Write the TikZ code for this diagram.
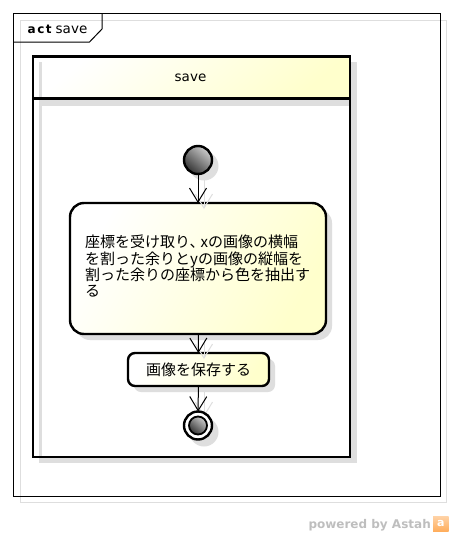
\documentclass[tikz,border=0pt]{standalone}
\usepackage{fontspec}
\setmainfont{DejaVu Sans}
\newfontfamily\jpfont{Noto Sans CJK JP}
\usetikzlibrary{arrows.meta,calc}
\definecolor{noteyellow}{RGB}{255,255,204}
\definecolor{shadowgrey}{RGB}{222,222,222}
\definecolor{powergrey}{RGB}{190,190,190}
\tikzset{
  framebox/.style={draw=black,line width=1pt},
  shadowbox/.style={draw=shadowgrey,line width=1.6pt},
  activity/.style={draw=black,line width=2.4pt,left color=white,right color=noteyellow,shading angle=60,inner sep=0pt,outer sep=0pt},
  actshadow/.style={fill=shadowgrey,draw=none},
  flow/.style={line width=1pt,-{Straight Barb[length=14pt,width=17pt,line width=1pt]}},
  flowshadow/.style={draw=shadowgrey,line width=1pt,-{Straight Barb[length=14pt,width=17pt,line width=1pt]}},
  ball/.style={circle,draw=black,line width=2.4pt,inner sep=0pt,outer sep=0pt,shading=axis,top color=gray!40,bottom color=black!80,shading angle=-40},
}
\begin{document}
\begin{tikzpicture}[x=1pt,y=-1pt]
\useasboundingbox (0,0) rectangle (453,536);
% outer frame
\node[fill=white,minimum width=427pt,minimum height=483pt,inner sep=0pt,outer sep=0pt,anchor=north west] (frameback) at (13.5,13.5) {};
\draw[shadowbox] (20.5,20.5) rectangle (446.5,502.5);
\node[framebox,minimum width=427pt,minimum height=483pt,inner sep=0pt,outer sep=0pt,anchor=north west] (frame) at (13.5,13.5) {};
\coordinate (tabA) at (13.5,42);
\coordinate (tabB) at (89.5,42);
\coordinate (tabC) at (102,29);
\coordinate (tabD) at (102,13.5);
\draw[line width=1pt] (tabA) -- (tabB) -- (tabC) -- (tabD);
\node[anchor=base west,inner sep=0pt,font=\bfseries\fontsize{12}{12}\selectfont] (acttag) at (27.5,33) {a\hspace{1.5pt}c\hspace{1.5pt}t};
\node[anchor=base west,inner sep=0pt,font=\fontsize{13.5}{14}\selectfont] (acttitle) at (55.5,33) {save};
% partition
\node[minimum width=317pt,minimum height=42pt,anchor=north west,inner sep=0pt,outer sep=0pt,left color=white,right color=noteyellow,shading angle=40] (head) at (33,56.5) {};
\fill[shadowgrey] (350,62) rectangle (356.5,463);
\fill[shadowgrey] (40,98) rectangle (350,106);
\fill[shadowgrey] (39,457) rectangle (350,463);
\draw[shadowgrey,line width=2.6pt] (40.5,62) -- (40.5,457);
\node[draw=black,line width=2.4pt,minimum width=317pt,minimum height=42pt,anchor=north west,inner sep=0pt,outer sep=0pt] (headline) at (33,56.5) {};
\node[draw=black,line width=2.4pt,minimum width=317pt,minimum height=359pt,anchor=north west,inner sep=0pt,outer sep=0pt] (body) at (33,98) {};
\node[inner sep=0pt,font=\fontsize{13.5}{14}\selectfont] (headtxt) at (190.5,78) {save};
% activity shadows
\fill[actshadow] (204,166) circle (14.5);
\fill[actshadow,rounded corners=14pt] (76,209) rectangle (332,340);
\fill[actshadow,rounded corners=7pt] (134,359) rectangle (275,392);
\fill[actshadow] (204,432) circle (14.5);
% nodes
\node[ball,minimum size=28pt] (start) at (198,160) {};
\node[activity,rounded corners=14pt,minimum width=256pt,minimum height=131pt] (act1) at (198,268.5) {};
\node[anchor=north west,inner sep=0pt,align=left,font=\jpfont\fontsize{15}{16.2}\selectfont] (act1txt) at (85,235) {座標を受け取り、\hspace{-4pt}xの画像の横幅\\を割った余りとyの画像の縦幅を\\割った余りの座標から色を抽出す\\る};
\node[activity,rounded corners=7pt,minimum width=141pt,minimum height=33pt,font=\jpfont\fontsize{15}{15}\selectfont] (act2) at (198.5,369.5) {画像を保存する};
% shadows of flows
\coordinate (s1a) at (204,175);
\coordinate (s1b) at (204,209);
\coordinate (s2a) at (204,340);
\coordinate (s2b) at (204,359);
\coordinate (s3a) at (204,392);
\coordinate (s3b) at (204,417);
\draw[flowshadow] (s1a) -- (s1b);
\draw[flowshadow] (s2a) -- (s2b);
\draw[flowshadow] (s3a) -- (s3b);
\node[circle,draw=black,line width=2.4pt,fill=white,minimum size=28pt,inner sep=0pt,outer sep=0pt] (stop) at (198,425.5) {};
\node[ball,line width=1.8pt,minimum size=18pt] (stopin) at (198,425.5) {};
% flows
\draw[flow] (start) -- (act1);
\draw[flow] (act1) -- (act2);
\draw[flow] (act2) -- (stop);
% footer
\node[anchor=base east,inner sep=0pt,text=powergrey,font=\bfseries\fontsize{12}{12}\selectfont] (power) at (431,528) {powered by Astah};
\node[anchor=north west,minimum size=15.5pt,inner sep=0pt,top color=orange!35,bottom color=orange!65,text=white,font=\bfseries\fontsize{11}{11}\selectfont] (logo) at (433,516) {a};
\end{tikzpicture}
\end{document}
